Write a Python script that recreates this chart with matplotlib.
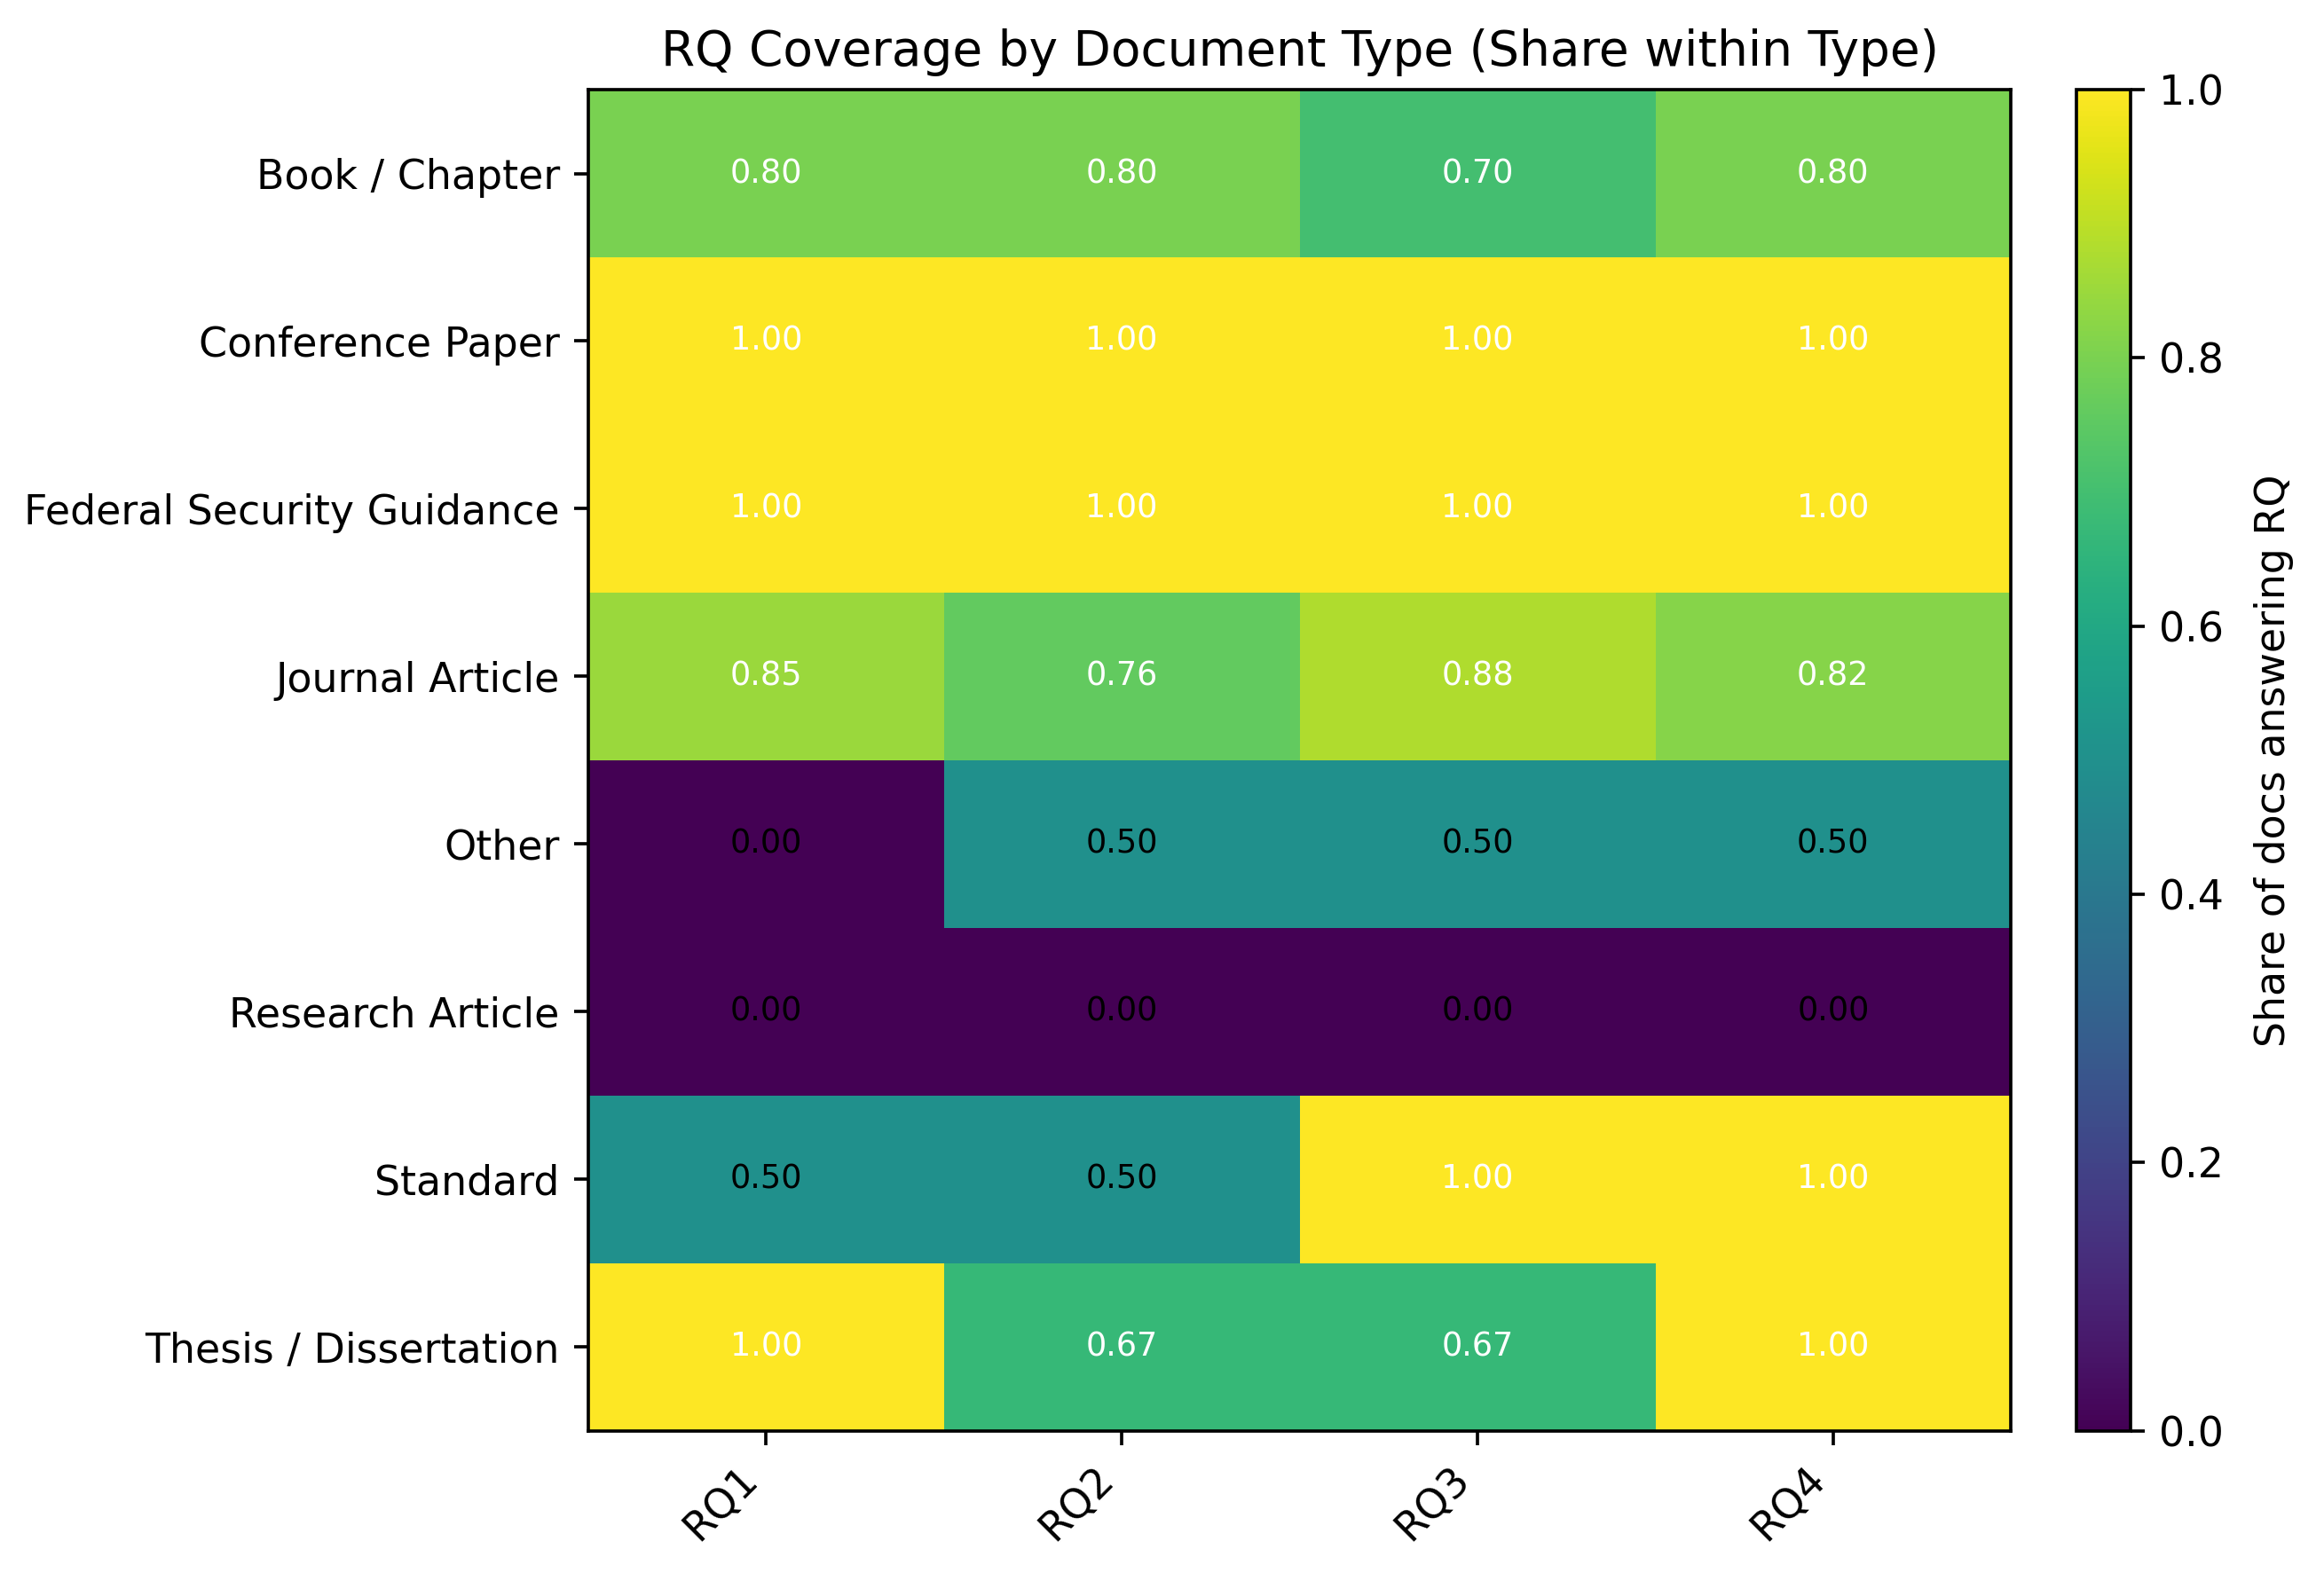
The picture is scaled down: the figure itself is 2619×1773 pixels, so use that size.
import matplotlib
matplotlib.use("Agg")
import matplotlib.pyplot as plt
import numpy as np

doc_types = ["Book / Chapter", "Conference Paper", "Federal Security Guidance",
             "Journal Article", "Other", "Research Article", "Standard",
             "Thesis / Dissertation"]
rqs = ["RQ1", "RQ2", "RQ3", "RQ4"]
rq1 = [0.80, 1.00, 1.00, 0.85, 0.00, 0.00, 0.50, 1.00]
rq2 = [0.80, 1.00, 1.00, 0.76, 0.50, 0.00, 0.50, 0.67]
rq3 = [0.70, 1.00, 1.00, 0.88, 0.50, 0.00, 1.00, 0.67]
rq4 = [0.80, 1.00, 1.00, 0.82, 0.50, 0.00, 1.00, 1.00]

data = np.array([rq1, rq2, rq3, rq4]).T

s = 1.1
plt.rcParams["xtick.major.size"] = 3.5 * s
plt.rcParams["ytick.major.size"] = 3.5 * s
plt.rcParams["xtick.major.width"] = 0.8 * s
plt.rcParams["ytick.major.width"] = 0.8 * s
plt.rcParams["axes.linewidth"] = 0.8 * s
plt.rcParams["xtick.major.pad"] = 3.5 * s
plt.rcParams["ytick.major.pad"] = 3.5 * s

fig = plt.figure(figsize=(2620/300, 1773/300), dpi=300)
ax = fig.add_axes([0.253, 0.0905, 0.612, 0.8525])
cax = fig.add_axes([0.893, 0.0905, 0.0235, 0.8525])

im = ax.imshow(data, cmap="viridis", vmin=0, vmax=1, aspect="auto")
ax.set_xticks(range(len(rqs)))
ax.set_xticklabels(rqs, rotation=45, ha="right", fontsize=10 * s)
ax.set_yticks(range(len(doc_types)))
ax.set_yticklabels(doc_types, fontsize=10 * s)
ax.set_title("RQ Coverage by Document Type (Share within Type)", fontsize=12 * s, pad=6 * s)

for i in range(data.shape[0]):
    for j in range(data.shape[1]):
        v = data[i, j]
        ax.text(j, i, f"{v:.2f}", ha="center", va="center", fontsize=8 * s,
                color="white" if v > 0.5 else "black")

cb = fig.colorbar(im, cax=cax)
cb.set_label("Share of docs answering RQ", fontsize=10 * s, labelpad=8)
cb.ax.tick_params(labelsize=10 * s)
cb.outline.set_linewidth(0.8 * s)

fig.savefig("out.png", dpi=300)
